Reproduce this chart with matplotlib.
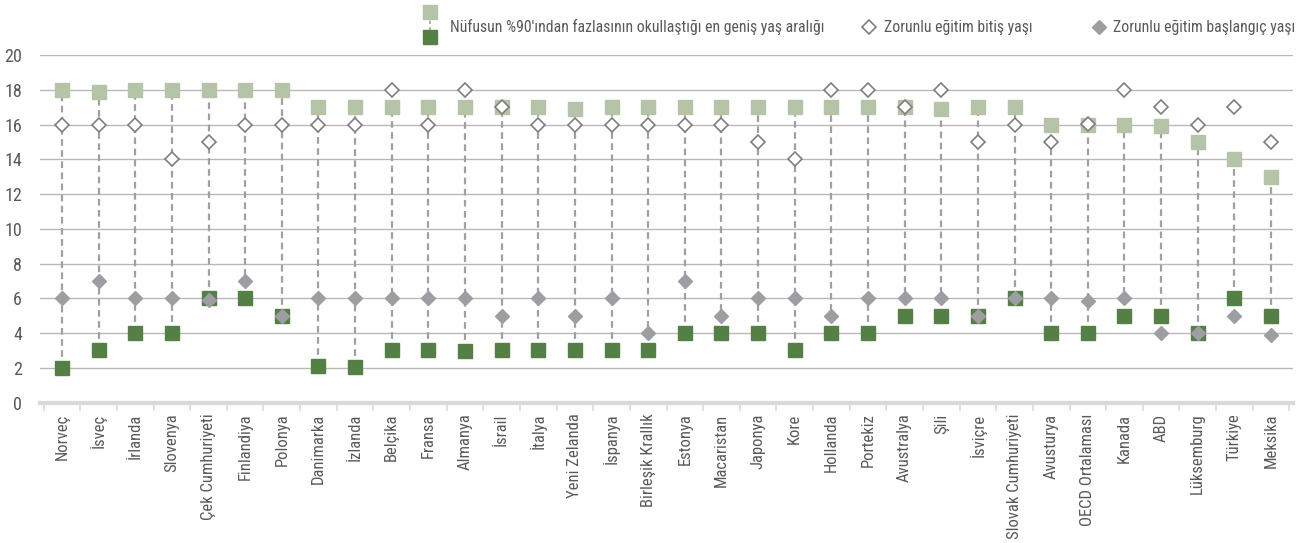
import matplotlib
matplotlib.use("Agg")
import matplotlib.pyplot as plt
import numpy as np

plt.rcParams['font.family'] = ['Roboto Condensed', 'DejaVu Sans']

countries = ["Norveç", "İsveç", "İrlanda", "Slovenya", "Çek Cumhuriyeti", "Finlandiya",
             "Polonya", "Danimarka", "İzlanda", "Belçika", "Fransa", "Almanya", "İsrail",
             "İtalya", "Yeni Zelanda", "İspanya", "Birleşik Krallık", "Estonya", "Macaristan",
             "Japonya", "Kore", "Hollanda", "Portekiz", "Avustralya", "Şili", "İsviçre",
             "Slovak Cumhuriyeti", "Avusturya", "OECD Ortalaması", "Kanada", "ABD",
             "Lüksemburg", "Türkiye", "Meksika"]

range_upper = [18, 17.9, 18, 18, 18, 18, 18, 17, 17, 17, 17, 17, 17, 17, 16.9, 17, 17, 17, 17,
               17, 17, 17, 17, 17, 16.9, 17, 17, 16, 16, 16, 15.9, 15, 14, 13]
range_lower = [2, 3, 4, 4, 6, 6, 5, 2.1, 2.05, 3, 3, 2.95, 3, 3, 3, 3, 3, 4, 4,
               4, 3, 4, 4, 5, 5, 5, 6, 4, 4, 5, 5, 4, 6, 5]
comp_end = [16, 16, 16, 14, 15, 16, 16, 16, 16, 18, 16, 18, 17, 16, 16, 16, 16, 16, 16,
            15, 14, 18, 18, 17, 18, 15, 16, 15, 16.05, 18, 17, 16, 17, 15]
comp_start = [6, 7, 6, 6, 5.9, 7, 5, 6, 6, 6, 6, 6, 5, 6, 5, 6, 4, 7, 5,
              6, 6, 5, 6, 6, 6, 5, 6, 6, 5.85, 6, 4, 4, 5, 3.9]

yticks = [0, 2, 4, 6, 8, 10, 12, 14, 16, 18, 20]

LIGHT = "#b5c4a6"
DARK = "#548046"
GRAY_D = "#9d9ea2"
EDGE = "#7f7f7f"
DASH = "#9fa0a4"
TXT = "#595959"

fig = plt.figure(figsize=(13.05, 5.43), dpi=100)
ax = fig.add_axes([40/1305, 1-402.5/543, 1253/1305, (402.5-55.3)/543])

x = np.arange(len(countries))

for g in yticks[1:]:
    ax.axhline(g, color="#b8b8b8", lw=1.0, zorder=0)

ax.vlines(x, range_lower, range_upper, colors=DASH, linestyles=(0, (3, 2)), lw=1.6, zorder=1)
ax.plot(x, range_upper, 's', ms=9.5, color=LIGHT, mec=LIGHT, ls='none', zorder=2)
ax.plot(x, range_lower, 's', ms=9.5, color=DARK, mec=DARK, ls='none', zorder=2)
ax.plot(x, comp_end, 'D', ms=7.5, mfc='white', mec=EDGE, mew=1.2, ls='none', zorder=3)
ax.plot(x, comp_start, 'D', ms=7.5, mfc=GRAY_D, mec=GRAY_D, ls='none', zorder=3)

ax.set_xlim(-0.6, len(countries) - 0.4)
ax.set_ylim(0, 20)
ax.set_yticks(yticks)
ax.set_yticklabels([str(v) for v in yticks], color=TXT, fontsize=13)
ax.tick_params(axis='y', length=0, pad=13)

ax.set_xticks(x)
ax.set_xticklabels(countries, rotation=90, color=TXT, fontsize=12)
ax.tick_params(axis='x', length=0, pad=8)
ax.set_xticks(np.arange(-0.5, len(countries)), minor=True)
ax.tick_params(axis='x', which='minor', length=6, width=1.2, color="#d9d9d9")

for s in ['top', 'right', 'left']:
    ax.spines[s].set_visible(False)
ax.spines['bottom'].set_color("#d9d9d9")
ax.spines['bottom'].set_linewidth(3)

# legend
lax = fig.add_axes([0, 1-45/543, 1, 45/543])
lax.set_xlim(0, 1305)
lax.set_ylim(45, 0)
lax.axis('off')
lax.plot([430, 430], [14, 36], color=DASH, ls=(0, (2, 2)), lw=1.2)
lax.plot([430], [12], 's', ms=9.5, color=LIGHT)
lax.plot([430], [37], 's', ms=9.5, color=DARK)
lax.text(450, 27, "Nüfusun %90'ından fazlasının okullaştığı en geniş yaş aralığı",
         va='center', ha='left', fontsize=11.3, color=TXT)
lax.plot([869], [27], 'D', ms=7.5, mfc='white', mec=EDGE, mew=1.2)
lax.text(884, 27, "Zorunlu eğitim bitiş yaşı", va='center', ha='left', fontsize=11.3, color=TXT)
lax.plot([1099], [27], 'D', ms=7.5, mfc=GRAY_D, mec=GRAY_D)
lax.text(1113, 27, "Zorunlu eğitim başlangıç yaşı", va='center', ha='left', fontsize=11.3, color=TXT)

fig.savefig("out.png", dpi=100)
